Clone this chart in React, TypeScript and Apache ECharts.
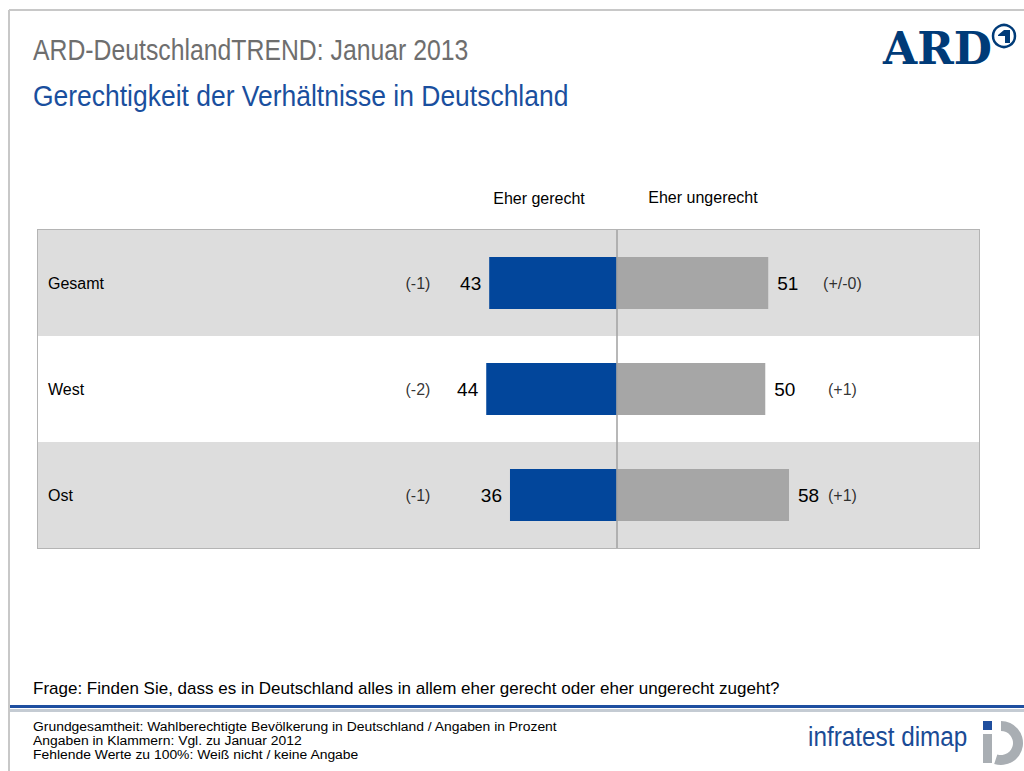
import React, { useEffect, useRef } from "react";
import * as echarts from "echarts";

const categories = ["Gesamt", "West", "Ost"];
const seriesNames = ["Eher gerecht", "Eher ungerecht"];
const gerecht = [43, 44, 36];
const ungerecht = [51, 50, 58];
const changeGerecht = ["(-1)", "(-2)", "(-1)"];
const changeUngerecht = ["(+/-0)", "(+1)", "(+1)"];

const title = "ARD-DeutschlandTREND: Januar 2013";
const subtitle = "Gerechtigkeit der Verhältnisse in Deutschland";
const question = "Frage: Finden Sie, dass es in Deutschland alles in allem eher gerecht oder eher ungerecht zugeht?";
const notes = [
  "Grundgesamtheit: Wahlberechtigte Bevölkerung in Deutschland / Angaben in Prozent",
  "Angaben in Klammern: Vgl. zu Januar 2012",
  "Fehlende Werte zu 100%: Weiß nicht / keine Angabe",
];

const SANS = "'Liberation Sans', Arial, sans-serif";

export default function App() {
  const ref = useRef<HTMLDivElement>(null);
  useEffect(() => {
    if (!ref.current) return;
    const chart = echarts.init(ref.current, undefined, { renderer: "svg" });
    const leftColX = -67;
    const rightColX = 76;
    chart.setOption({
      animation: false,
      backgroundColor: "#ffffff",
      grid: {
        left: 38,
        right: 45,
        top: 230,
        bottom: 223,
        show: true,
        borderColor: "#b4b4b4",
        borderWidth: 2,
        backgroundColor: "transparent",
      },
      xAxis: {
        type: "value",
        min: -195,
        max: 122,
        show: false,
      },
      yAxis: {
        type: "category",
        data: categories,
        inverse: true,
        axisLine: { show: false },
        axisTick: { show: false },
        splitLine: { show: false },
        splitArea: { show: true, areaStyle: { color: ["#dddddd", "#ffffff"] } },
        axisLabel: {
          inside: true,
          margin: 10,
          fontFamily: SANS,
          fontSize: 16,
          color: "#000",
        },
        z: 1,
      },
      series: [
        {
          name: seriesNames[0],
          type: "bar",
          stack: "s",
          barWidth: 52,
          data: gerecht.map((v) => -v),
          itemStyle: { color: "#02469b" },
          label: {
            show: true,
            position: "left",
            distance: 8,
            formatter: (p: any) => String(Math.abs(p.value)),
            fontFamily: SANS,
            fontSize: 19,
            color: "#000",
          },
          markLine: {
            silent: true,
            symbol: "none",
            label: { show: false },
            lineStyle: { color: "#a0a0a0", width: 1.5, type: "solid" },
            data: [{ xAxis: 0 }],
            z: 5,
          },
        },
        {
          name: seriesNames[1],
          type: "bar",
          stack: "s",
          barWidth: 52,
          data: ungerecht,
          itemStyle: { color: "#a6a6a6" },
          label: {
            show: true,
            position: "right",
            distance: 9,
            fontFamily: SANS,
            fontSize: 19,
            color: "#000",
          },
        },
        {
          type: "scatter",
          symbolSize: 0,
          silent: true,
          data: categories.map((c, i) => ({ value: [leftColX, c], txt: changeGerecht[i] })),
          label: {
            show: true,
            position: "inside",
            formatter: (p: any) => p.data.txt,
            fontFamily: SANS,
            fontSize: 16,
            color: "#000",
          },
        },
        {
          type: "scatter",
          symbolSize: 0,
          silent: true,
          data: categories.map((c, i) => ({ value: [rightColX, c], txt: changeUngerecht[i] })),
          label: {
            show: true,
            position: "inside",
            formatter: (p: any) => p.data.txt,
            fontFamily: SANS,
            fontSize: 16,
            color: "#000",
          },
        },
      ],
      graphic: [
        // page frame
        { type: "line", shape: { x1: 9, y1: 10, x2: 1024, y2: 10 }, style: { stroke: "#c8c8c8", lineWidth: 2 } },
        { type: "line", shape: { x1: 9, y1: 10, x2: 9, y2: 771 }, style: { stroke: "#c8c8c8", lineWidth: 2 } },
        // titles
        {
          type: "text",
          x: 33,
          y: 50,
          scaleX: 0.855,
          style: { text: title, fontFamily: SANS, fontSize: 29, fill: "#6e6e6e", verticalAlign: "middle" },
        },
        {
          type: "text",
          x: 33,
          y: 96,
          scaleX: 0.913,
          style: { text: subtitle, fontFamily: SANS, fontSize: 29, fill: "#1a4f9e", verticalAlign: "middle" },
        },
        // ARD logo
        {
          type: "text",
          left: 883,
          top: 26,
          style: { text: "ARD", fontFamily: "'DejaVu Serif', serif", fontWeight: "bold", fontSize: 44, fill: "#003b78" },
        },
        {
          type: "circle",
          shape: { cx: 1004, cy: 36, r: 11 },
          style: { fill: "none", stroke: "#003b78", lineWidth: 2.5 },
        },
        {
          type: "polygon",
          shape: { points: [[998, 35], [1004, 30], [1010, 30], [1010, 43], [1005, 43], [1005, 36], [998, 36]] },
          style: { fill: "#003b78" },
        },
        // column headers
        {
          type: "text",
          x: 539,
          y: 198,
          style: { text: seriesNames[0], fontFamily: SANS, fontSize: 16, fill: "#000", align: "center", verticalAlign: "middle" },
        },
        {
          type: "text",
          x: 703,
          y: 197,
          style: { text: seriesNames[1], fontFamily: SANS, fontSize: 16, fill: "#000", align: "center", verticalAlign: "middle" },
        },
        // question
        {
          type: "text",
          x: 33,
          y: 688,
          style: { text: question, fontFamily: SANS, fontSize: 17, fill: "#000", verticalAlign: "middle" },
        },
        // divider
        { type: "rect", shape: { x: 10, y: 705, width: 1014, height: 3 }, style: { fill: "#1f4fa0" } },
        { type: "rect", shape: { x: 10, y: 709, width: 1014, height: 3 }, style: { fill: "#c4cbd3" } },
        // notes
        ...notes.map((n, i) => ({
          type: "text",
          x: 33,
          y: 727 + i * 14,
          scaleX: 1.03,
          style: { text: n, fontFamily: SANS, fontSize: 13.5, fill: "#000", verticalAlign: "middle" },
        })),
        // infratest dimap logo
        {
          type: "text",
          x: 808,
          y: 737,
          scaleX: 0.9,
          style: { text: "infratest dimap", fontFamily: SANS, fontSize: 27, fill: "#1a4b96", verticalAlign: "middle" },
        },
        { type: "rect", shape: { x: 983, y: 721, width: 9, height: 9 }, style: { fill: "#1f4e9e" } },
        { type: "rect", shape: { x: 983, y: 734, width: 9, height: 29 }, style: { fill: "#a9aeb3" } },
        {
          type: "sector",
          shape: { cx: 1001, cy: 743, r0: 12, r: 22, startAngle: -Math.PI * 0.5, endAngle: Math.PI * 0.6, clockwise: true },
          style: { fill: "#a9aeb3" },
        },
      ],
    });
    return () => chart.dispose();
  }, []);
  return (
    <div
      ref={ref}
      style={{ position: "fixed", left: 0, top: 0, width: 1024, height: 771, background: "#fff" }}
    />
  );
}
